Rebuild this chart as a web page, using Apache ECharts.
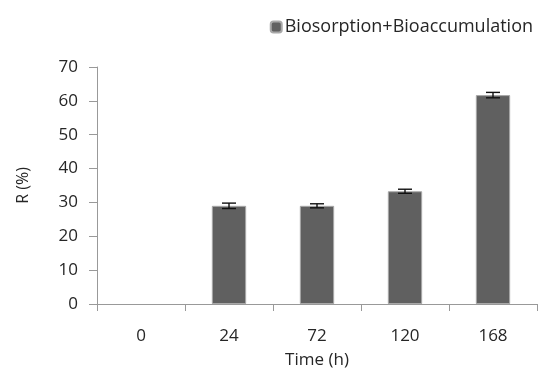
<!DOCTYPE html>
<html>
<head>
<meta charset="utf-8">
<script src="https://cdn.jsdelivr.net/npm/echarts@6/dist/echarts.min.js"></script>
<style>
  html, body { margin: 0; padding: 0; background: #fff; }
  #chart { width: 542px; height: 374px; }
</style>
</head>
<body>
<div id="chart"></div>
<script>
// data
var times = ['0', '24', '72', '120', '168'];
var removal = [0, 29.0, 29.0, 33.3, 61.7];
var removal_err = [0, 0.8, 0.6, 0.6, 0.8];
var series_name = 'Biosorption+Bioaccumulation';

var font = 'Open Sans';
var txt = '#262626';

var chart = echarts.init(document.getElementById('chart'));

var option = {
    animation: false,
    grid: {
        left: 97,
        right: 5,
        top: 67,
        bottom: 70
    },
    legend: {
        data: [series_name],
        right: 4,
        top: 13,
        itemWidth: 11,
        itemHeight: 11,
        textStyle: {
            fontFamily: font,
            fontSize: 18,
            color: txt,
            padding: [0, 0, 0, -2]
        }
    },
    xAxis: {
        type: 'category',
        data: times,
        name: 'Time (h)',
        nameLocation: 'center',
        nameGap: 48,
        nameTextStyle: { fontFamily: font, fontSize: 17, color: txt },
        axisLine: { lineStyle: { color: '#999', width: 1 } },
        axisTick: { show: true, length: 7, lineStyle: { color: '#999' } },
        axisLabel: { fontFamily: font, fontSize: 17, color: txt, margin: 24 }
    },
    yAxis: {
        type: 'value',
        min: 0,
        max: 70,
        interval: 10,
        name: 'R (%)',
        nameLocation: 'center',
        nameGap: 66,
        nameRotate: 90,
        nameTextStyle: { fontFamily: font, fontSize: 16, color: txt },
        splitLine: { show: false },
        axisLine: { show: true, lineStyle: { color: '#999', width: 1 } },
        axisTick: { show: true, length: 8, lineStyle: { color: '#999' } },
        axisLabel: { fontFamily: font, fontSize: 17, color: txt, margin: 19 }
    },
    series: [
        {
            name: series_name,
            type: 'bar',
            data: removal.map(function(v) {
                // no outline on the empty 0 h bar
                return v > 0 ? v : { value: v, itemStyle: { borderWidth: 0 } };
            }),
            barWidth: '39%',
            itemStyle: {
                color: '#606060',
                borderColor: '#a8a8a8',
                borderWidth: 1
            }
        },
        {
            type: 'custom',
            name: 'err',
            data: removal.map(function(v, i) {
                return [i, v - removal_err[i], v + removal_err[i]];
            }),
            renderItem: function(params, api) {
                if (api.value(2) - api.value(1) <= 0) return;
                var lo = api.coord([api.value(0), api.value(1)]);
                var hi = api.coord([api.value(0), api.value(2)]);
                var hw = 7;
                var st = { stroke: '#111', lineWidth: 1.4 };
                return {
                    type: 'group',
                    children: [
                        { type: 'line', shape: { x1: lo[0], y1: lo[1], x2: hi[0], y2: hi[1] }, style: st },
                        { type: 'line', shape: { x1: lo[0] - hw, y1: lo[1], x2: lo[0] + hw, y2: lo[1] }, style: st },
                        { type: 'line', shape: { x1: hi[0] - hw, y1: hi[1], x2: hi[0] + hw, y2: hi[1] }, style: st }
                    ]
                };
            },
            z: 10
        }
    ]
};

chart.setOption(option);
</script>
</body>
</html>
